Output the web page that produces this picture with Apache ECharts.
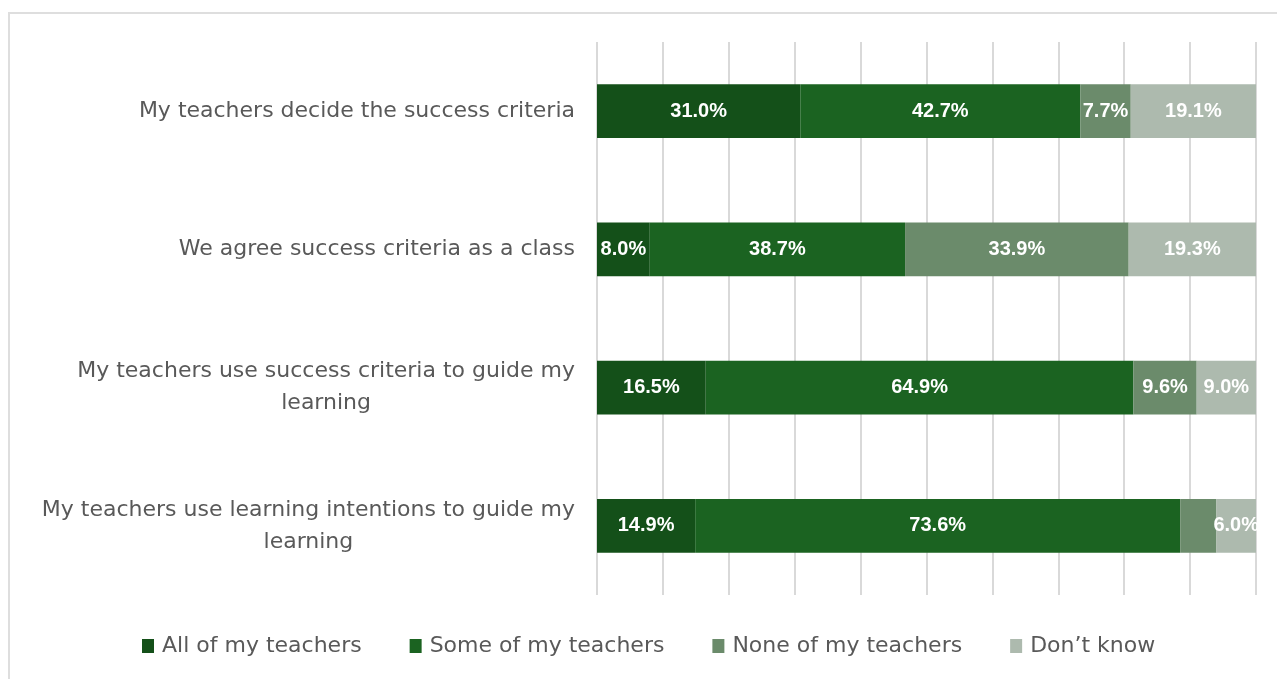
<!DOCTYPE html>
<html>
<head>
<meta charset="utf-8">
<script src="https://cdn.jsdelivr.net/npm/echarts@6/dist/echarts.min.js"></script>
<style>
  html, body { margin: 0; padding: 0; background: #fff; }
  #frame { position: absolute; left: 8px; top: 12px; width: 1280px; height: 680px;
           border-top: 2px solid #dedede; border-left: 2px solid #dedede; }
  #box { position: absolute; left: 0; top: 0; width: 1277px; height: 679px; }
</style>
</head>
<body>
<div id="frame"></div>
<div id="box"></div>
<script>
const categories = [
  'My teachers decide the success criteria',
  'We agree success criteria as a class',
  'My teachers use success criteria to guide my\nlearning',
  'My teachers use learning intentions to guide my\nlearning'
];
const seriesNames = ['All of my teachers', 'Some of my teachers', 'None of my teachers', 'Don\u2019t know'];
const allTeachers = [31.0, 8.0, 16.5, 14.9];
const someTeachers = [42.7, 38.7, 64.9, 73.6];
const noneTeachers = [7.7, 33.9, 9.6, 5.5];
const dontKnow = [19.1, 19.3, 9.0, 6.0];
const colors = ['#145019', '#1b6321', '#6b8b6b', '#adbaae'];

const raw = [allTeachers, someTeachers, noneTeachers, dontKnow];
// 100% stacked: each row scaled to its own total
const totals = categories.map((c, i) => raw.reduce((s, arr) => s + arr[i], 0));

const labelFont = 'DejaVu Sans, Noto Sans, sans-serif';

const series = raw.map((arr, k) => ({
  name: seriesNames[k],
  type: 'bar',
  stack: 'total',
  barWidth: '39%',
  itemStyle: { color: colors[k] },
  label: {
    show: true,
    position: 'inside',
    color: '#fff',
    fontFamily: 'Liberation Sans, Arial, sans-serif',
    fontWeight: 'bold',
    fontSize: 20,
    formatter: (p) => arr[p.dataIndex] < 5.8 ? '' : arr[p.dataIndex].toFixed(1) + '%'
  },
  data: arr.map((v, i) => v / totals[i] * 100)
}));

const chart = echarts.init(document.getElementById('box'));
chart.setOption({
  animation: false,
  textStyle: { fontFamily: labelFont },
  grid: { left: 597, right: 21, top: 42, bottom: 84 },
  legend: {
    bottom: 17,
    left: 137,
    itemWidth: 12,
    itemHeight: 14,
    itemGap: 48,
    icon: 'rect',
    textStyle: { color: '#595959', fontSize: 22, fontFamily: labelFont, padding: [0, 0, 0, 3] },
    data: seriesNames
  },
  xAxis: {
    type: 'value',
    min: 0,
    max: 100,
    interval: 10,
    axisLabel: { show: false },
    axisLine: { show: false },
    axisTick: { show: false },
    splitLine: { show: true, lineStyle: { color: '#d9d9d9', width: 2 } }
  },
  yAxis: {
    type: 'category',
    inverse: true,
    data: categories,
    axisLine: { show: false },
    axisTick: { show: false },
    axisLabel: {
      margin: 22,
      color: '#595959',
      fontSize: 22,
      lineHeight: 32,
      formatter: (v) => v.split('\n').map(s => '{c|' + s + '}').join('\n'),
      rich: {
        c: { align: 'center', color: '#595959', fontSize: 22, lineHeight: 32, fontFamily: labelFont }
      }
    }
  },
  series: series
});
</script>
</body>
</html>
